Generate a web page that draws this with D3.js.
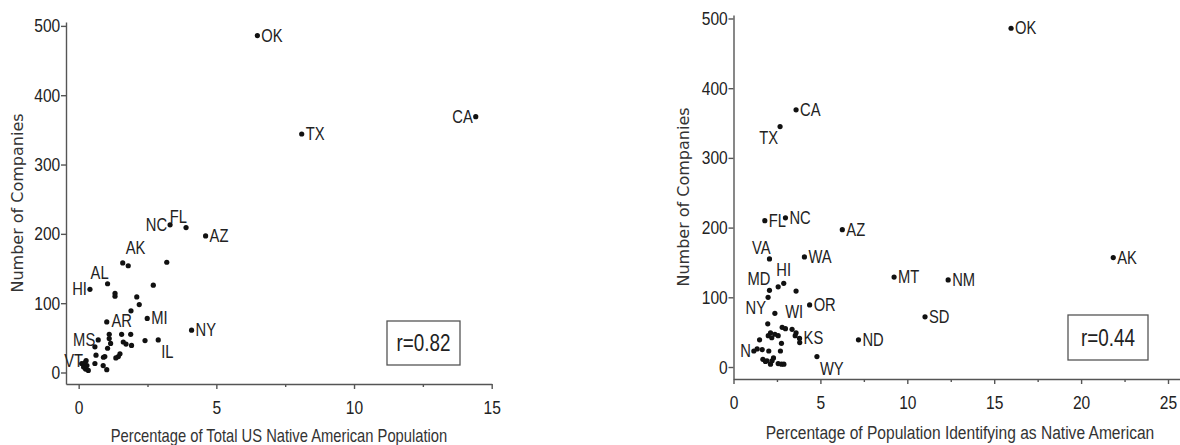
<!DOCTYPE html>
<html>
<head>
<meta charset="utf-8">
<script src="https://cdn.jsdelivr.net/npm/d3@7"></script>
<style>
  body { margin: 0; background: #fff; }
  svg { display: block; }
  .axis path, .axis line { stroke: #555; stroke-width: 1.4; }
  .axis text { font-family: 'Liberation Sans', Arial, sans-serif; font-size: 19px; fill: #222; }
  .lbl { font-family: 'Liberation Sans', Arial, sans-serif; font-size: 18px; fill: #222; }
  .xtitle { font-family: 'Liberation Sans', Arial, sans-serif; fill: #333; }
  .ytitle { font-family: 'DejaVu Sans', Verdana, sans-serif; font-size: 16px; fill: #333; }
</style>
</head>
<body>
<script>

// left panel: share of total US native american population
var leftStates = ["OK","TX","CA","NC","FL","AZ","AK","","","","HI","AL","","","","","","",
  "MI","NY","IL","","AR","","","","","","","","","","MS","","","","","","","","VT","","","","","","","",""];
var leftPct = [6.49,8.10,14.42,3.32,3.90,4.61,1.60,1.80,3.20,2.71,0.41,1.05,1.32,1.32,2.11,2.20,1.90,1.02,
  2.49,4.10,2.89,2.41,1.56,1.11,1.11,1.16,1.62,1.72,1.89,1.92,1.50,1.44,0.71,1.35,0.59,0.63,0.95,0.89,1.02,0.59,0.27,0.11,0.25,0.18,0.30,0.35,0.22,0.90,1.05];
var leftCompanies = [486,344,369,213,209,197,158,154,159,126,120,128,114,110,109,98,89,73,
  78,61,47,46,55,55,49,42,44,41,55,39,27,23,47,21,37,25,23,10,4,13,17,13,5,8,10,3,14,22,35];

// right panel: share of state population identifying as native american
var rightStates = ["OK","CA","TX","FL","NC","AZ","VA","WA","AK","MD","HI","MT","NM","NY","OR","SD","WI","KS","ND","N","WY",
  "","","","","","","","","","","","","","","","","","","","","","","","","","","","",""];
var rightPct = [15.97,3.60,2.68,1.80,2.99,6.26,2.07,4.08,21.85,2.07,2.89,9.24,12.35,1.99,4.38,11.02,2.80,3.80,7.19,1.17,4.80,
  2.57,3.60,2.38,1.97,2.13,2.38,2.57,2.99,3.37,3.60,3.81,2.76,2.70,1.50,1.36,1.65,2.03,1.69,1.93,2.13,2.22,2.57,2.76,1.84,2.00,2.20,2.90,2.30,3.55];
var rightCompanies = [486,369,345,210,214,197,155,158,157,110,120,129,125,100,89,72,57,41,39,23,15,
  115,109,77,62,49,47,45,55,54,49,35,34,23,39,26,25,23,11,9,4,9,5,4,8,45,42,4,13,45];

var xTicksLeft = [0,5,10,15], xMinorLeft = [2.5,7.5,12.5];
var xTicksRight = [0,5,10,15,20,25], xMinorRight = [2.5,7.5,12.5,17.5,22.5];
var yTicks = [0,100,200,300,400,500];

// where each state label sits relative to its dot
var leftLabelPos = {OK:"r",TX:"r",CA:"l",NC:"l",FL:"tl",AZ:"r",AK:"tr",HI:"l",AL:"tl",MI:"r",NY:"r",IL:"br",AR:"t",MS:"l",VT:"l"};
var rightLabelPos = {OK:"r",CA:"r",TX:"bl",FL:"r",NC:"r",AZ:"r",VA:"tl",WA:"r",AK:"r",MD:"tl",HI:"t",MT:"r",NM:"r",NY:"bl",OR:"r",SD:"r",WI:"tr",KS:"r",ND:"r",N:"l",WY:"br"};

// the original uses a narrow face; squeeze the regular one instead
var squeeze = 0.82;

var svg = d3.select("body").append("svg")
    .attr("width", 1180)
    .attr("height", 445);

drawPanel({
  states: leftStates, xs: leftPct, ys: leftCompanies, pos: leftLabelPos,
  x: d3.scaleLinear().domain([-0.46, 15]).range([66, 491.7]),
  y: d3.scaleLinear().domain([-16.6, 505.6]).range([384, 22]),
  ticks: xTicksLeft, minor: xMinorLeft,
  xTitle: "Percentage of Total US Native American Population", xTitleX: 279, xTitleY: 442, xTitleSize: 18,
  yTitleX: 17, yTitleY: 203,
  r: "r=0.82", box: [387, 321, 73, 44]
});

drawPanel({
  states: rightStates, xs: rightPct, ys: rightCompanies, pos: rightLabelPos,
  x: d3.scaleLinear().domain([0, 25.69]).range([733.5, 1180]),
  y: d3.scaleLinear().domain([-17.2, 505]).range([379, 15]),
  ticks: xTicksRight, minor: xMinorRight,
  xTitle: "Percentage of Population Identifying as Native American", xTitleX: 960, xTitleY: 439, xTitleSize: 19,
  yTitleX: 683, yTitleY: 197,
  r: "r=0.44", box: [1068, 315, 80, 45]
});

function drawPanel(c) {
  var x = c.x, y = c.y;
  var x0 = x.range()[0], yb = y.range()[0];

  // x axis, major then minor ticks
  svg.append("g")
      .attr("class", "axis")
      .attr("transform", "translate(0," + yb + ")")
      .call(d3.axisBottom(x).tickValues(c.ticks).tickSize(5).tickSizeOuter(0).tickPadding(12))
    .selectAll("text")
      .attr("transform", "scale(" + squeeze + ",1)");
  svg.append("g")
      .attr("class", "axis")
      .attr("transform", "translate(0," + yb + ")")
      .call(d3.axisBottom(x).tickValues(c.minor).tickSize(3).tickFormat(""))
      .select(".domain").remove();

  // y axis
  svg.append("g")
      .attr("class", "axis")
      .attr("transform", "translate(" + x0 + ",0)")
      .call(d3.axisLeft(y).tickValues(yTicks).tickSize(5).tickSizeOuter(0).tickPadding(2))
    .selectAll("text")
      .attr("transform", "scale(" + squeeze + ",1)");

  svg.append("text")
      .attr("class", "xtitle")
      .attr("transform", "translate(" + c.xTitleX + "," + c.xTitleY + ") scale(" + squeeze + ",1)")
      .attr("text-anchor", "middle")
      .style("font-size", c.xTitleSize + "px")
      .text(c.xTitle);

  svg.append("text")
      .attr("class", "ytitle")
      .attr("transform", "translate(" + c.yTitleX + "," + c.yTitleY + ") rotate(-90)")
      .attr("text-anchor", "middle")
      .attr("dy", "0.35em")
      .text("Number of Companies");

  var pts = c.xs.map(function(v, i) { return {x: v, y: c.ys[i], s: c.states[i]}; });

  svg.append("g").selectAll("circle")
      .data(pts)
      .enter().append("circle")
      .attr("cx", function(d) { return x(d.x); })
      .attr("cy", function(d) { return y(d.y); })
      .attr("r", 2.6)
      .attr("fill", "#111");

  svg.append("g").selectAll("text")
      .data(pts.filter(function(d) { return d.s; }))
      .enter().append("text")
      .attr("class", "lbl")
      .each(function(d) {
        var p = c.pos[d.s] || "r", px = x(d.x), py = y(d.y);
        var dx = 4, dy = 6, anchor = "start";
        if (p == "r") { dx = 4; dy = 6; }
        if (p == "l") { dx = -3; dy = 6; anchor = "end"; }
        if (p == "t") { dx = 0; dy = -7; anchor = "middle"; }
        if (p == "tl") { dx = 1; dy = -5; anchor = "end"; }
        if (p == "tr") { dx = 3; dy = -9; anchor = "start"; }
        if (p == "bl") { dx = -2; dy = 17; anchor = "end"; }
        if (p == "br") { dx = 3; dy = 18; anchor = "start"; }
        d3.select(this)
            .attr("transform", "translate(" + (px + dx) + "," + (py + dy) + ") scale(" + squeeze + ",1)")
            .attr("text-anchor", anchor)
            .text(d.s);
      });

  // correlation box
  svg.append("rect")
      .attr("x", c.box[0]).attr("y", c.box[1])
      .attr("width", c.box[2]).attr("height", c.box[3])
      .attr("fill", "none")
      .attr("stroke", "#555")
      .attr("stroke-width", 1.3);
  svg.append("text")
      .attr("class", "lbl")
      .attr("transform", "translate(" + (c.box[0] + c.box[2] / 2) + "," + (c.box[1] + c.box[3] / 2) + ") scale(" + squeeze + ",1)")
      .attr("dy", "0.36em")
      .attr("text-anchor", "middle")
      .style("font-size", "23px")
      .text(c.r);
}

</script>
</body>
</html>
